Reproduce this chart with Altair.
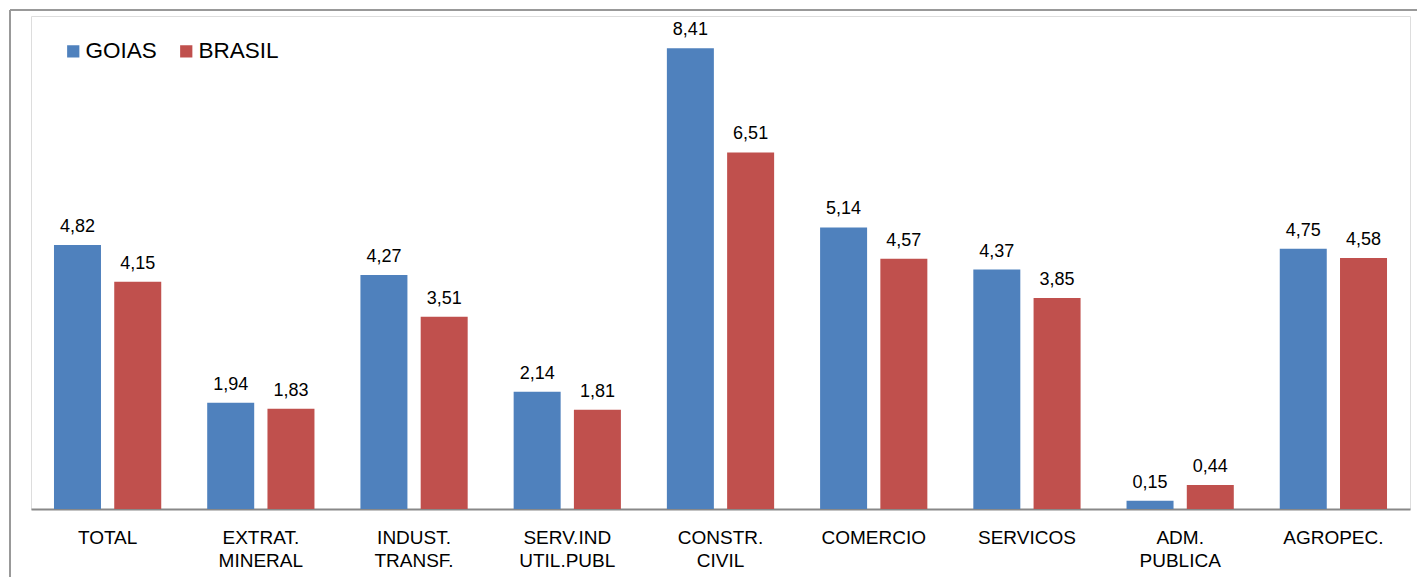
import altair as alt
import pandas as pd

categories = ["TOTAL", "EXTRAT. MINERAL", "INDUST. TRANSF.", "SERV.IND UTIL.PUBL",
              "CONSTR. CIVIL", "COMERCIO", "SERVICOS", "ADM. PUBLICA", "AGROPEC."]
goias = [4.82, 1.94, 4.27, 2.14, 8.41, 5.14, 4.37, 0.15, 4.75]
brasil = [4.15, 1.83, 3.51, 1.81, 6.51, 4.57, 3.85, 0.44, 4.58]
series = ["GOIAS", "BRASIL"]
colors = ["#4F81BD", "#C0504D"]

rows = []
for c, g, b in zip(categories, goias, brasil):
    rows.append({"cat": c, "serie": "GOIAS", "v": g})
    rows.append({"cat": c, "serie": "BRASIL", "v": b})
df = pd.DataFrame(rows)

FONT = "Liberation Sans"

x = alt.X("cat:N", sort=categories, title=None,
          scale=alt.Scale(paddingInner=0.3, paddingOuter=0.15),
          axis=alt.Axis(labelExpr="split(datum.label, ' ')", labelAngle=0,
                        labelFontSize=19, labelFont=FONT, labelColor="#000",
                        labelPadding=28, labelLineHeight=23, ticks=False,
                        domainColor="#888888", domainWidth=2, labelBaseline="middle"))
xo = alt.XOffset("serie:N", sort=series, scale=alt.Scale(paddingInner=0.22, paddingOuter=0))
y = alt.Y("v:Q", scale=alt.Scale(domain=[0, 9], nice=False), axis=None, title=None)

base = alt.Chart(df).encode(x=x, xOffset=xo, y=y)

bars = base.mark_bar().encode(
    color=alt.Color("serie:N", sort=series,
                    scale=alt.Scale(domain=series, range=colors),
                    legend=alt.Legend(title=None, orient="none", legendX=31, legendY=24,
                                      direction="horizontal", symbolType="square",
                                      symbolSize=150, symbolStrokeWidth=0,
                                      labelFontSize=22.5, labelFont=FONT, labelColor="#000",
                                      columnPadding=18, labelOffset=1))
)

labels = base.transform_calculate(
    lab="replace(format(datum.v, '.2f'), '.', ',')"
).mark_text(baseline="bottom", dy=-9, fontSize=18, font=FONT, color="#000").encode(
    text="lab:N"
)

frame_left = alt.Chart(pd.DataFrame({"a": [0]})).mark_rule(color="#999999", strokeWidth=2).encode(
    x=alt.value(-21), y=alt.value(-6), y2=alt.value(600))
frame_top = alt.Chart(pd.DataFrame({"a": [0]})).mark_rule(color="#999999", strokeWidth=2).encode(
    x=alt.value(-21), x2=alt.value(1386), y=alt.value(-6))

chart = alt.layer(bars, labels, frame_left, frame_top).properties(
    width=1379, height=493,
    autosize=alt.AutoSizeParams(type="none"),
    padding={"left": 23, "top": 8, "right": 7, "bottom": 68}
).configure_view(stroke=None).configure(background="white")

chart.save("out.html", embed_options={"renderer": "svg", "actions": False})
